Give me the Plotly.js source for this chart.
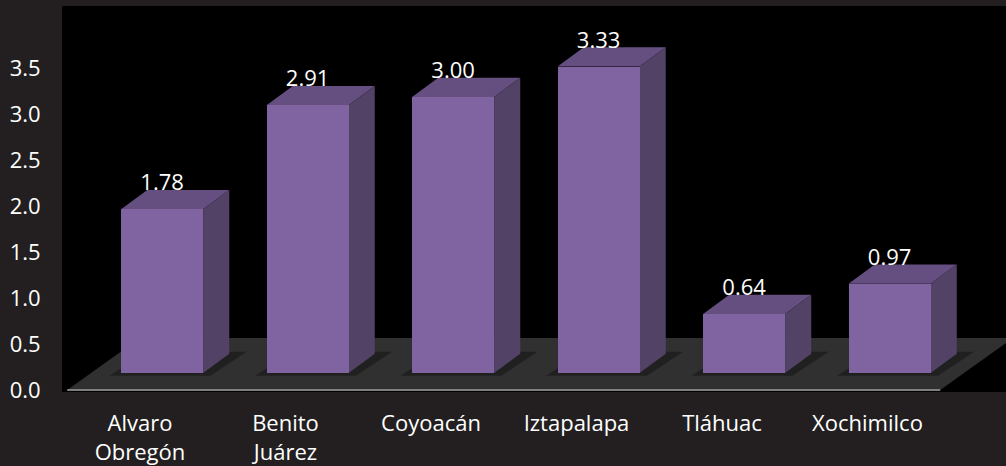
<!DOCTYPE html>
<html>
<head>
<meta charset="utf-8">
<script src="https://cdn.plot.ly/plotly-3.0.1.min.js"></script>
<style>
  html, body { margin: 0; padding: 0; background: #231F20; }
  #chart { width: 1006px; height: 466px; }
</style>
</head>
<body>
<div id="chart"></div>
<script>
// ---- data ----
const categories = ['Alvaro<br>Obregón', 'Benito<br>Juárez', 'Coyoacán', 'Iztapalapa', 'Tláhuac', 'Xochimilco'];
const values = [1.78, 2.91, 3.00, 3.33, 0.64, 0.97];
const valueLabels = ['1.78', '2.91', '3.00', '3.33', '0.64', '0.97'];
const yTickVals = [0, 0.5, 1.0, 1.5, 2.0, 2.5, 3.0, 3.5];

// ---- 3D look parameters (style, in axis units) ----
const BASE = 0.185;      // bars stand back from the floor front edge
const BAR_OFF = -0.13;   // front face offset from category position
const BAR_W = 0.5636;    // front face width
const DX = 0.18;         // depth shift right
const DY = 0.21;         // depth shift up
const FLOOR_DX = 0.5;
const FLOOR_DY = 0.565;
const LABEL_DROP = 0.065;

const FONT = "'Open Sans', 'Noto Sans', sans-serif";
const idx = categories.map((c, i) => i);
const n = categories.length;

const front = {
  type: 'bar',
  x: idx,
  y: values,
  base: values.map(() => BASE),
  offset: BAR_OFF,
  width: BAR_W,
  marker: { color: '#8064A2', line: { width: 0 } },
  hoverinfo: 'skip'
};

const labels = {
  type: 'scatter',
  mode: 'text',
  x: idx.map(i => i + BAR_OFF + BAR_W / 2),
  y: values.map(v => v + BASE + DY - LABEL_DROP),
  text: valueLabels,
  textposition: 'top center',
  textfont: { family: FONT, size: 22, color: '#FFFFFF' },
  hoverinfo: 'skip',
  cliponaxis: false
};

const shapes = [];
// floor
const fl = -0.5, fr = n - 0.5;
shapes.push({
  type: 'path', xref: 'x', yref: 'y', layer: 'below',
  path: `M ${fl},0 L ${fr},0 L ${fr + FLOOR_DX},${FLOOR_DY} L ${fl + FLOOR_DX},${FLOOR_DY} Z`,
  fillcolor: '#303030', line: { width: 0 }
});
// soft shadows under bars on floor
idx.forEach(i => {
  const x0 = i + BAR_OFF, x1 = x0 + BAR_W;
  shapes.push({
    type: 'path', xref: 'x', yref: 'y', layer: 'below',
    path: `M ${x0 - 0.08},${BASE - 0.03} L ${x1 + 0.05},${BASE - 0.03} L ${x1 + DX + 0.12},${BASE + DY + 0.02} L ${x0 + DX},${BASE + DY + 0.02} Z`,
    fillcolor: 'rgba(20,20,20,0.55)', line: { width: 0 }
  });
});
// floor front edge line
shapes.push({
  type: 'line', xref: 'x', yref: 'y', layer: 'below',
  x0: fl, x1: fr, y0: 0, y1: 0,
  line: { color: '#7F7F7F', width: 2 }
});
// bar top and side faces
idx.forEach(i => {
  const x0 = i + BAR_OFF, x1 = x0 + BAR_W;
  const top = BASE + values[i];
  shapes.push({
    type: 'path', xref: 'x', yref: 'y', layer: 'below',
    path: `M ${x0},${top} L ${x1},${top} L ${x1 + DX},${top + DY} L ${x0 + DX},${top + DY} Z`,
    fillcolor: '#654F80', line: { width: 0 }
  });
  shapes.push({
    type: 'path', xref: 'x', yref: 'y', layer: 'below',
    path: `M ${x1},${BASE} L ${x1},${top} L ${x1 + DX},${top + DY} L ${x1 + DX},${BASE + DY} Z`,
    fillcolor: '#524265', line: { width: 0 }
  });
});

const layout = {
  width: 1006, height: 466,
  margin: { l: 62, r: 0, t: 6, b: 74, pad: 0 },
  paper_bgcolor: '#231F20',
  plot_bgcolor: '#000000',
  showlegend: false,
  font: { family: FONT, size: 22, color: '#FFFFFF' },
  xaxis: {
    range: [-0.536, 5.952],
    tickvals: idx,
    ticktext: categories,
    showgrid: false, zeroline: false, showline: false,
    ticks: 'outside', ticklen: 12, tickcolor: 'rgba(0,0,0,0)',
    tickfont: { family: FONT, size: 22, color: '#FFFFFF' },
    fixedrange: true
  },
  yaxis: {
    range: [-2 / 92, 384 / 92],
    tickvals: yTickVals,
    tickformat: '.1f',
    showgrid: false, zeroline: false, showline: false,
    ticks: 'outside', ticklen: 16, tickcolor: 'rgba(0,0,0,0)',
    tickfont: { family: FONT, size: 22, color: '#FFFFFF' },
    fixedrange: true
  },
  shapes: shapes,
  bargap: 0
};

Plotly.newPlot('chart', [front, labels], layout, { displayModeBar: false, staticPlot: true });
</script>
</body>
</html>
